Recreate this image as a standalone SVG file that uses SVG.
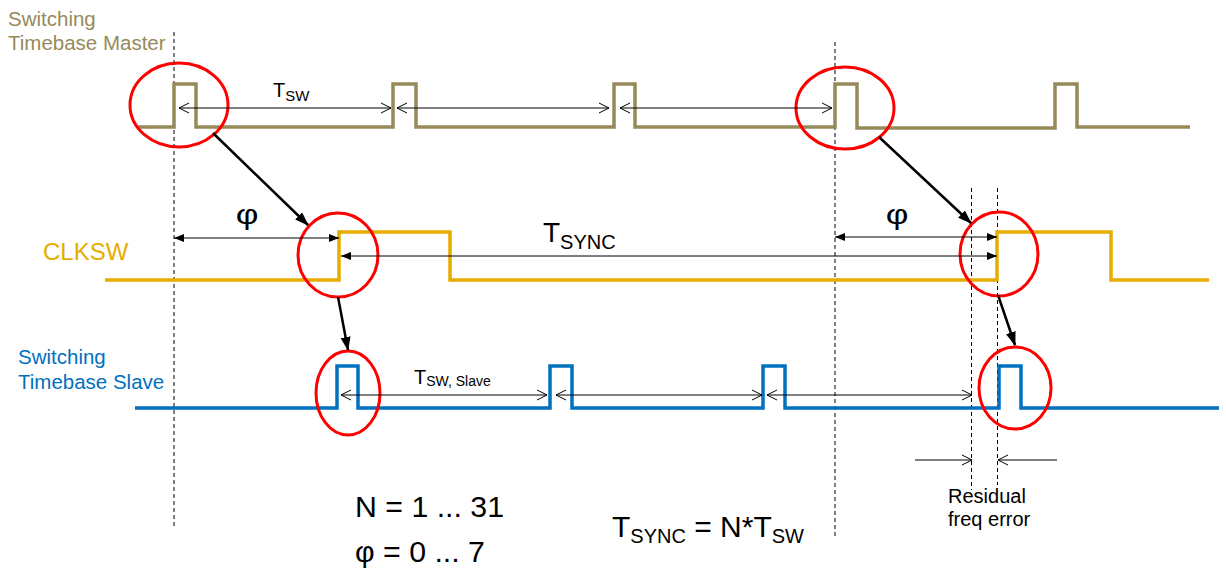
<svg xmlns="http://www.w3.org/2000/svg" width="1226" height="571" viewBox="0 0 1226 571">
<defs>
<style>
text{font-family:"Liberation Sans",Arial,sans-serif;}
.wave{fill:none;stroke-width:3.5;stroke-linejoin:miter;}
.master{stroke:#968a5a;}
.clk{stroke:#e6ac00;}
.slave{stroke:#0070c0;}
.ring{fill:none;stroke:#ff0000;stroke-width:3;}
.dash{stroke:#000;stroke-width:1;stroke-dasharray:4 3;fill:none;}
.thin{stroke:#000;stroke-width:1;fill:none;}
.open{marker-start:url(#mo);marker-end:url(#mo);}
.filled{marker-start:url(#mf);marker-end:url(#mf);}
.diag{stroke:#000;stroke-width:2.5;fill:none;marker-end:url(#mb);}
.lm{fill:#968a5a;font-size:20.5px;}
.lc{fill:#e6ac00;font-size:24px;}
.ls{fill:#0070c0;font-size:20.5px;}
.k{fill:#000;}
</style>
<marker id="mo" viewBox="0 0 12 12" refX="11" refY="6" markerWidth="12" markerHeight="12" markerUnits="userSpaceOnUse" orient="auto-start-reverse"><path d="M1,1 L11,6 L1,11" fill="none" stroke="#000" stroke-width="1"/></marker>
<marker id="mf" viewBox="0 0 10 8" refX="10" refY="4" markerWidth="10" markerHeight="8" markerUnits="userSpaceOnUse" orient="auto-start-reverse"><path d="M0,0 L10,4 L0,8 z" fill="#000"/></marker>
<marker id="mb" viewBox="0 0 14 10" refX="13" refY="5" markerWidth="14" markerHeight="10" markerUnits="userSpaceOnUse" orient="auto"><path d="M0,0 L14,5 L0,10 z" fill="#000"/></marker>
</defs>
<rect width="1226" height="571" fill="#fff"/>

<g id="guides">
<line class="dash" x1="174" y1="32" x2="174" y2="527"/>
<line class="dash" x1="835" y1="42" x2="835" y2="537"/>
<line class="dash" x1="971.5" y1="188" x2="971.5" y2="490"/>
<line class="dash" x1="997.5" y1="188" x2="997.5" y2="485"/>
</g>

<g id="master">
<path class="wave master" d="M138,127 H174 V84 H196 V127 H393 V84 H416 V127 H614 V84 H635 V127 H835 V84 H857 V128 H1055 V84 H1077 V127 H1190"/>
<text class="lm" x="8" y="26">Switching</text>
<text class="lm" x="8" y="50">Timebase Master</text>
</g>

<g id="clksw">
<path class="wave clk" d="M105,280 H339 V232 H450 V280 H997 V232 H1111 V280 H1209"/>
<text class="lc" x="43" y="260">CLKSW</text>
</g>

<g id="slave">
<path class="wave slave" d="M135,408 H337 V366 H358 V408 H550 V366 H572 V408 H763 V366 H785 V408 H999 V366 H1021 V408 H1219"/>
<text class="ls" x="18" y="364">Switching</text>
<text class="ls" x="18" y="389">Timebase Slave</text>
</g>

<g id="rings">
<ellipse class="ring" cx="179" cy="105" rx="49" ry="42"/>
<ellipse class="ring" cx="338" cy="255" rx="40" ry="42"/>
<ellipse class="ring" cx="348" cy="393" rx="32" ry="42"/>
<ellipse class="ring" cx="845" cy="108" rx="49" ry="41"/>
<ellipse class="ring" cx="999" cy="254" rx="39" ry="42"/>
<ellipse class="ring" cx="1015" cy="388" rx="36" ry="41"/>
</g>

<g id="connectors">
<line class="thin open" x1="179" y1="108" x2="391" y2="108"/>
<line class="thin open" x1="397" y1="108" x2="609" y2="108"/>
<line class="thin open" x1="620" y1="108" x2="832" y2="108"/>
<line class="thin open" x1="341" y1="395" x2="547" y2="395"/>
<line class="thin open" x1="556" y1="395" x2="762" y2="395"/>
<line class="thin open" x1="767" y1="395" x2="972" y2="395"/>
<line class="thin filled" x1="174" y1="238" x2="339" y2="238"/>
<line class="thin filled" x1="835" y1="237" x2="997" y2="237"/>
<line class="thin filled" x1="341" y1="256" x2="997" y2="256"/>
<line class="thin" x1="915" y1="460" x2="972" y2="460" marker-end="url(#mo)"/>
<line class="thin" x1="1057" y1="460" x2="998" y2="460" marker-end="url(#mo)"/>
<line class="diag" x1="213" y1="133" x2="308" y2="225"/>
<line class="diag" x1="338" y1="297" x2="348" y2="350"/>
<line class="diag" x1="879" y1="137" x2="971" y2="223"/>
<line class="diag" x1="998" y1="295" x2="1015" y2="345"/>
</g>

<g id="labels">
<text class="k" x="273" y="97" font-size="20">T<tspan font-size="15" dy="4">SW</tspan></text>
<text class="k" transform="translate(247,224) scale(1.3,1)" font-size="27" text-anchor="middle">φ</text>
<text class="k" transform="translate(897,224) scale(1.3,1)" font-size="27" text-anchor="middle">φ</text>
<text class="k" x="543" y="242" font-size="28">T<tspan font-size="20" dy="7">SYNC</tspan></text>
<text class="k" x="414" y="384" font-size="20">T<tspan font-size="14" dy="2">SW, Slave</tspan></text>
<text class="k" x="948" y="503" font-size="20">Residual</text>
<text class="k" x="948" y="526" font-size="20">freq error</text>
<text class="k" x="355" y="517" font-size="30.3">N = 1 ... 31</text>
<text class="k" x="355" y="562" font-size="30.3">φ = 0 ... 7</text>
<text class="k" x="612" y="537" font-size="30">T<tspan font-size="20" dy="6">SYNC</tspan><tspan dy="-6"> = N*T</tspan><tspan font-size="20" dy="6">SW</tspan></text>
</g>
</svg>
